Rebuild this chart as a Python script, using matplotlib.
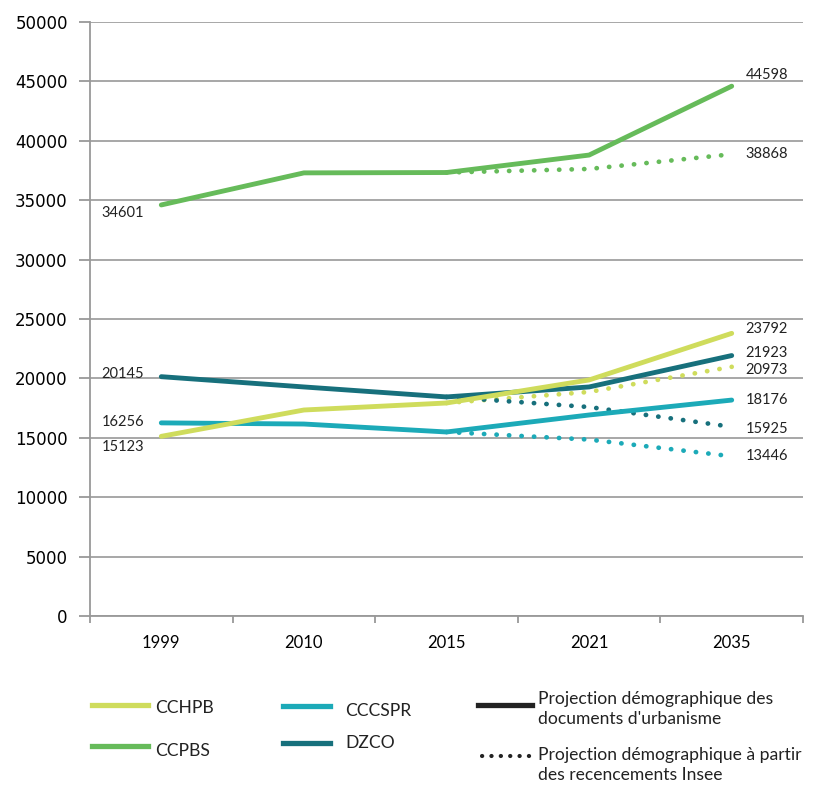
# population projections by intercommunality, 1999-2035

import matplotlib.pyplot as plt
from matplotlib.lines import Line2D

years = ['1999', '2010', '2015', '2021', '2035']

# observed + urban planning projection (solid lines)
cchpb = [15123, 17340, 17930, 19870, 23792]
cccspr = [16256, 16160, 15490, 16920, 18176]
ccpbs = [34601, 37300, 37330, 38800, 44598]
dzco = [20145, 19280, 18440, 19280, 21923]

# Insee census based projection (dotted lines, from 2015)
years_insee = ['2015', '2021', '2035']
cchpb_insee = [17930, 18860, 20973]
cccspr_insee = [15490, 14850, 13446]
ccpbs_insee = [37330, 37630, 38868]
dzco_insee = [18440, 17590, 15925]

c_cchpb = '#cfdc5c'
c_cccspr = '#1caab8'
c_ccpbs = '#66bb5a'
c_dzco = '#17707c'

fig = plt.figure(figsize=(8.19, 7.85), dpi=100)
ax = fig.add_axes([90/819, 169/785, 713/819, 594/785])

pos = {y: i for i, y in enumerate(years)}
x = [pos[y] for y in years]
xi = [pos[y] for y in years_insee]

dot = (0, (0.05, 2.6))
for vals, ins, col in [(ccpbs, ccpbs_insee, c_ccpbs), (cchpb, cchpb_insee, c_cchpb),
                       (cccspr, cccspr_insee, c_cccspr), (dzco, dzco_insee, c_dzco)]:
    ax.plot(xi, ins, color=col, lw=3.4, linestyle=dot, dash_capstyle='round')
for vals, col in [(cccspr, c_cccspr), (dzco, c_dzco), (cchpb, c_cchpb), (ccpbs, c_ccpbs)]:
    ax.plot(x, vals, color=col, lw=3.5, solid_capstyle='round', solid_joinstyle='round')

# data labels
lab_font = dict(family='Lato', fontsize=10.5, color='#222222', va='center')
for v, dy in [(ccpbs[0], -8), (dzco[0], 3), (cccspr[0], 1), (cchpb[0], -11)]:
    ax.annotate(str(v), (0, v), xytext=(-17, dy), textcoords='offset pixels', ha='right', **lab_font)
for v, dy in [(ccpbs[-1], 11), (ccpbs_insee[-1], 0), (cchpb[-1], 4), (dzco[-1], 3),
              (cchpb_insee[-1], -3), (cccspr[-1], 0), (dzco_insee[-1], -2), (cccspr_insee[-1], 0)]:
    ax.annotate(str(v), (4, v), xytext=(14, dy), textcoords='offset pixels', ha='left', **lab_font)

ax.set_xlim(-0.5, 4.5)
ax.set_ylim(0, 50000)
ax.set_yticks(range(0, 50001, 5000))
ax.set_yticklabels([str(v) for v in range(0, 50001, 5000)], fontsize=12, family='DejaVu Sans')
ax.set_xticks(x)
ax.set_xticklabels(years, fontsize=12, family='Lato')
ax.set_xticks([i - 0.5 for i in range(6)], minor=True)
ax.tick_params(axis='x', which='major', length=0, pad=14)
ax.tick_params(axis='x', which='minor', length=5, color='#999999', width=1.3, direction='out')
ax.tick_params(axis='y', length=8, color='#999999', width=1.3, pad=8)
ax.grid(axis='y', color='#a0a0a0', lw=1.3)
ax.set_axisbelow(True)
for s in ['top', 'right']:
    ax.spines[s].set_visible(False)
for s in ['left', 'bottom']:
    ax.spines[s].set_color('#999999')
    ax.spines[s].set_linewidth(1.3)

# legend below the chart
def handle(x0, x1, y, col, ls='-', lw=3.8):
    fig.add_artist(Line2D([x0/819, x1/819], [1 - y/785, 1 - y/785], color=col, lw=lw,
                          linestyle=ls, dash_capstyle='round', transform=fig.transFigure))

leg_font = dict(family='Lato', fontsize=12.6, color='#222222', va='center')
handle(92, 148, 705, c_cchpb)
fig.text(155/819, 1 - 708/785, 'CCHPB', **leg_font)
handle(92, 148, 746, c_ccpbs)
fig.text(155/819, 1 - 751/785, 'CCPBS', **leg_font)
handle(283, 330, 706, c_cccspr)
fig.text(345/819, 1 - 711/785, 'CCCSPR', **leg_font)
handle(283, 330, 743, c_dzco)
fig.text(345/819, 1 - 743/785, 'DZCO', **leg_font)
handle(478, 532, 705, '#222222')
fig.text(538/819, 1 - 709/785, "Projection démographique des\ndocuments d'urbanisme",
         linespacing=1.35, **leg_font)
handle(482, 530, 756, '#222222', ls=(0, (0.05, 2.2)), lw=3)
fig.text(538/819, 1 - 765/785, "Projection démographique à partir\ndes recencements Insee",
         linespacing=1.35, **leg_font)

fig.savefig('out.png', dpi=100)
